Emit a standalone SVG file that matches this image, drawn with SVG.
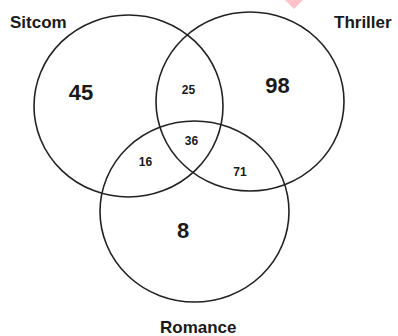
<svg xmlns="http://www.w3.org/2000/svg" width="398" height="336" viewBox="0 0 398 336">
  <style>
    .set { fill: none; stroke: #222; stroke-width: 1.6; }
    .lbl { font-family: "Liberation Sans", Arial, sans-serif; font-weight: bold; font-size: 17px; fill: #1a1a1a; }
    .big { font-family: "Liberation Sans", Arial, sans-serif; font-weight: bold; font-size: 22px; fill: #1a1a1a; text-anchor: middle; }
    .small { font-family: "Liberation Sans", Arial, sans-serif; font-weight: bold; font-size: 12px; fill: #1a1a1a; text-anchor: middle; }
  </style>
  <rect width="398" height="336" fill="#ffffff"/>
  <polygon points="285,0 294,9 303,0 294,-9" fill="#ffc2c8"/>
  <g id="sitcom">
    <ellipse class="set" cx="128.5" cy="106" rx="94.5" ry="91"/>
    <text class="lbl" x="10" y="28">Sitcom</text>
  </g>
  <g id="thriller">
    <ellipse class="set" cx="250" cy="101.5" rx="94" ry="89.5"/>
    <text class="lbl" x="334" y="28">Thriller</text>
  </g>
  <g id="romance">
    <ellipse class="set" cx="194.5" cy="211.5" rx="94.5" ry="90.5"/>
    <text class="lbl" x="160" y="333">Romance</text>
  </g>
  <g id="regions">
    <text class="big" x="81" y="100">45</text>
    <text class="big" x="277.5" y="93">98</text>
    <text class="big" x="183" y="238">8</text>
    <text class="small" x="188.5" y="94">25</text>
    <text class="small" x="191.5" y="145">36</text>
    <text class="small" x="145.5" y="166">16</text>
    <text class="small" x="240" y="176">71</text>
  </g>
</svg>
